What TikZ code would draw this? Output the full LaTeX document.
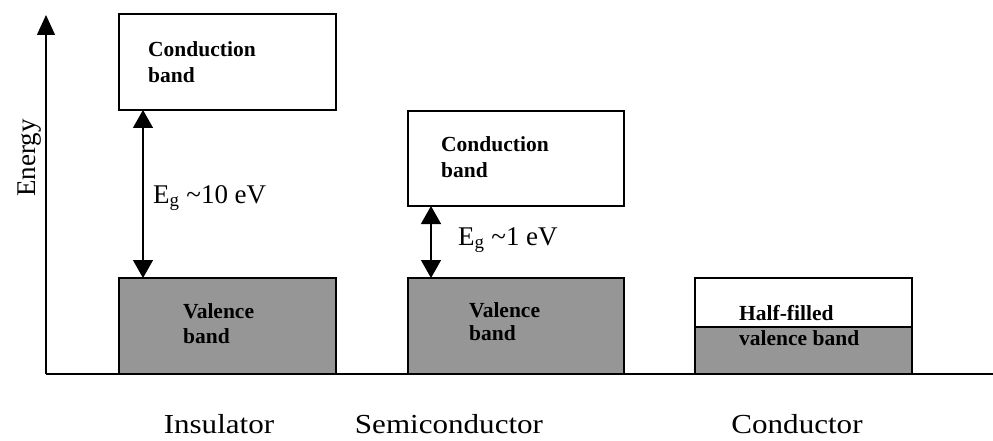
\documentclass[tikz,border=0pt]{standalone}
\usepackage{fontspec}
\setmainfont{Liberation Serif}
\newfontfamily\widefont[FakeStretch=1.13]{Liberation Serif}
\usetikzlibrary{arrows.meta}
\definecolor{valgray}{RGB}{150,150,150}
\begin{document}
\begin{tikzpicture}[x=1pt,y=-1pt,
  band/.style={draw=black, line width=1.4pt, inner sep=0pt, outer sep=0pt, anchor=north west},
  cband/.style={band, fill=white},
  vband/.style={band, fill=valgray},
  blabel/.style={anchor=base west, inner sep=0pt, font=\fontsize{21.5}{25}\selectfont\bfseries},
  eglabel/.style={anchor=base west, inner sep=0pt, font=\fontsize{27}{30}\selectfont},
  matlabel/.style={anchor=base, inner sep=0pt, font=\fontsize{27.5}{30}\selectfont\widefont},
  axisline/.style={line width=1.4pt},
  gaparrow/.style={line width=1.4pt, {Triangle[length=18pt,width=20pt]}-{Triangle[length=18pt,width=20pt]}}
]
\useasboundingbox (0,0) rectangle (993,441);
% axes
\coordinate (origin) at (46,374);
\coordinate (ytop) at (46,15);
\coordinate (xend) at (993,374);
\draw[axisline, -{Triangle[length=20pt,width=18pt]}] (origin) -- (ytop);
\draw[axisline] (origin) -- (xend);
\node[rotate=90, anchor=base, inner sep=0pt, font=\fontsize{27}{30}\selectfont] (energy) at (35,158) {Energy};
% insulator
\node[cband, minimum width=217pt, minimum height=96pt] (icb) at (119,14) {};
\node[vband, minimum width=217pt, minimum height=96pt] (ivb) at (119,278) {};
\draw[gaparrow] (icb.south -| 143,0) -- (ivb.north -| 143,0);
\node[blabel] (ic1) at (148,57) {Conduction};
\node[blabel] (ic2) at (148,83) {band};
\node[blabel] (iv1) at (183,318) {Valence};
\node[blabel] (iv2) at (183,343) {band};
\node[eglabel] (eg1) at (153,203) {E\textsubscript{g} \textasciitilde10 eV};
% semiconductor
\node[cband, minimum width=216pt, minimum height=95pt] (scb) at (408,111) {};
\node[vband, minimum width=216pt, minimum height=96pt] (svb) at (408,278) {};
\draw[gaparrow] (scb.south -| 431,0) -- (svb.north -| 431,0);
\node[blabel] (sc1) at (441,152) {Conduction};
\node[blabel] (sc2) at (441,177) {band};
\node[blabel] (sv1) at (469,317) {Valence};
\node[blabel] (sv2) at (469,340) {band};
\node[eglabel] (eg2) at (458,245) {E\textsubscript{g} \textasciitilde1 eV};
% conductor
\node[cband, minimum width=217pt, minimum height=49pt] (ctop) at (695,278) {};
\node[vband, minimum width=217pt, minimum height=47pt] (cbot) at (695,327) {};
\node[blabel] (ch1) at (739,320) {Half-filled};
\node[blabel] (ch2) at (739,345) {valence band};
% material labels
\node[matlabel] (lins) at (219,433) {Insulator};
\node[matlabel] (lsemi) at (449,433) {Semiconductor};
\node[matlabel] (lcond) at (797,433) {Conductor};
\end{tikzpicture}
\end{document}
